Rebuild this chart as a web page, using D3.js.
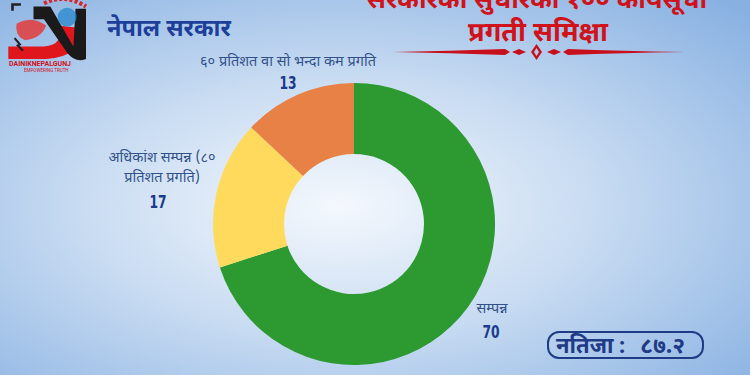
<!DOCTYPE html>
<html>
<head>
<meta charset="utf-8">
<script src="https://cdn.jsdelivr.net/npm/d3@7"></script>
<style>
  html, body { margin: 0; padding: 0; overflow: hidden; }
  svg { display: block; }
</style>
</head>
<body>
<svg id="chart" width="750" height="375"></svg>
<script>
// chart data
var categories = ["सम्पन्न", "अधिकांश सम्पन्न (८० प्रतिशत प्रगति)", "६० प्रतिशत वा सो भन्दा कम प्रगति"];
var values = [70, 17, 13];
var colors = ["#2c9a30", "#ffda5c", "#e88146"];
var resultName = "नतिजा";
var resultValue = "८७.२";

var W = 750, H = 375;
var svg = d3.select("#chart");
var defs = svg.append("defs");

// background gradient
var bg = defs.append("radialGradient").attr("id", "bg")
    .attr("cx", "45%").attr("cy", "55%").attr("r", "75%");
bg.append("stop").attr("offset", "0%").attr("stop-color", "#f4f8fd");
bg.append("stop").attr("offset", "45%").attr("stop-color", "#c9dcf2");
bg.append("stop").attr("offset", "100%").attr("stop-color", "#88b1e2");
svg.append("rect").attr("width", W).attr("height", H).attr("fill", "url(#bg)");

var cx = 354, cy = 224, outerR = 141, innerR = 70;

var pie = d3.pie().sort(null).value(d => d);
var arc = d3.arc().innerRadius(innerR).outerRadius(outerR);

var g = svg.append("g").attr("transform", "translate(" + cx + "," + cy + ")");
g.selectAll("path")
    .data(pie(values))
    .join("path")
    .attr("d", arc)
    .attr("fill", (d, i) => colors[i]);

// labels (positions tuned by hand to match the picture)
var labelFont = "'Noto Sans Devanagari', 'Noto Sans', sans-serif";
var numFont = "'DejaVu Sans Condensed', 'Liberation Sans Narrow', sans-serif";
var labelColor = "#33528a";
var numColor = "#1b3a8c";

var labels = [
  {lines: ["सम्पन्न"], x: 492, y: 313, nx: 491, ny: 338},
  {lines: ["अधिकांश सम्पन्न (८०", "प्रतिशत प्रगति)"], x: 162, y: 162, nx: 158, ny: 208},
  {lines: ["६० प्रतिशत वा सो भन्दा कम प्रगति"], x: 288, y: 66, nx: 288, ny: 89}
];
labels.forEach(function (l, i) {
  l.lines.forEach(function (t, j) {
    svg.append("text")
      .attr("x", l.x).attr("y", l.y + j * 20)
      .attr("text-anchor", "middle")
      .attr("font-family", labelFont)
      .attr("font-size", 14.5)
      .attr("fill", labelColor)
      .text(t);
  });
  svg.append("text")
    .attr("transform", "translate(" + l.nx + "," + l.ny + ") scale(0.78,1)")
    .attr("text-anchor", "middle")
    .attr("font-family", numFont)
    .attr("font-weight", "bold")
    .attr("font-size", 17.5)
    .attr("fill", numColor)
    .text(values[i]);
});

// header
svg.append("text")
  .attr("x", 107).attr("y", 36)
  .attr("font-family", labelFont)
  .attr("font-weight", "bold")
  .attr("font-size", 23.5)
  .attr("fill", "#1d3f9a")
  .text("नेपाल सरकार");

svg.append("text")
  .attr("x", 537).attr("y", 8)
  .attr("text-anchor", "middle")
  .attr("font-family", labelFont)
  .attr("font-weight", "bold")
  .attr("font-size", 26)
  .attr("fill", "#d0121b")
  .text("सरकारको सुधारका १०० कार्यसूची");
svg.append("text")
  .attr("x", 538).attr("y", 41)
  .attr("text-anchor", "middle")
  .attr("font-family", labelFont)
  .attr("font-weight", "bold")
  .attr("font-size", 27)
  .attr("fill", "#d0121b")
  .text("प्रगती समिक्षा");

// ornament line under title
var orn = svg.append("g").attr("fill", "#c8101c");
orn.append("path").attr("d", "M393,52 Q450,51 505,49 L510,52 L505,55 Q450,53 393,52 Z");
orn.append("path").attr("d", "M685,52 Q620,51 568,49 L563,52 L568,55 Q620,53 685,52 Z");
orn.append("path").attr("d", "M512,52 L519,49 L526,52 L519,55 Z");
orn.append("path").attr("d", "M547,52 L554,49 L561,52 L554,55 Z");
orn.append("path").attr("d", "M536.5,44 L531,52 L536.5,60 L542,52 Z M536.5,48 L539,52 L536.5,56 L534,52 Z")
  .attr("fill-rule", "evenodd");

// result box
var box = svg.append("g").attr("fill", "#1f3b86")
  .attr("font-family", labelFont).attr("font-weight", "bold").attr("font-size", 22);
box.append("rect")
  .attr("x", 548).attr("y", 332).attr("width", 155).attr("height", 26)
  .attr("rx", 11)
  .attr("fill", "none")
  .attr("stroke", "#1f3b86")
  .attr("stroke-width", 2);
box.append("text").attr("x", 556).attr("y", 353).text(resultName);
box.append("text").attr("x", 622).attr("y", 353).attr("text-anchor", "middle").text(":");
box.append("text").attr("x", 640).attr("y", 353).attr("font-size", 23).text(resultValue);

// simple logo
var logo = svg.append("g").attr("transform", "translate(2,-6) scale(1.05)");
logo.append("path").attr("d", "M10,16 L10,10 L18,10").attr("fill", "none").attr("stroke", "#222").attr("stroke-width", 2.5);
logo.append("path").attr("d", "M6,50 L40,50 Q60,48 54,30 L70,32 Q78,60 42,62 L6,62 Z").attr("fill", "#e0161d");
logo.append("path").attr("d", "M14,28 Q28,20 42,30 Q38,42 22,44 Q12,40 14,28 Z").attr("fill", "#e33b3b").attr("opacity", 0.85);
logo.append("path").attr("d", "M30,12 L46,12 L68,50 L70,14 L80,14 L80,62 Q70,66 62,56 L40,24 L30,24 Z").attr("fill", "#1a1a1a");
logo.append("circle").attr("cx", 62).attr("cy", 22).attr("r", 9).attr("fill", "#2d8ad0").attr("opacity", 0.8);
logo.append("path").attr("d", "M40,9 Q60,-1 80,12").attr("fill", "none").attr("stroke", "#d8262c").attr("stroke-width", 4).attr("stroke-dasharray", "3,2");
logo.append("path").attr("d", "M12,42 L17,48 L15,49 L20,54").attr("fill", "none").attr("stroke", "#222").attr("stroke-width", 2);
svg.append("text").attr("x", 9).attr("y", 66).attr("font-family", "Roboto, sans-serif")
  .attr("font-size", 7).attr("font-weight", "bold").attr("fill", "#d0121b").text("DAINIKNEPALGUNJ");
svg.append("text").attr("x", 24).attr("y", 72).attr("font-family", "Roboto, sans-serif")
  .attr("font-size", 4.5).attr("fill", "#d0121b").text("EMPOWERING TRUTH");
</script>
</body>
</html>
